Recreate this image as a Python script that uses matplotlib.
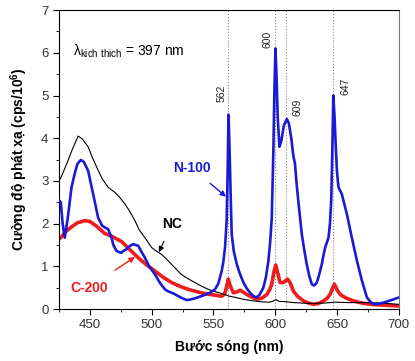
import matplotlib.pyplot as plt
from matplotlib.ticker import MultipleLocator

plt.rcParams['font.family'] = ['Liberation Sans', 'DejaVu Sans']

# NC sample (thin black)
nc_wl = [425, 427, 432, 436, 440.5, 444, 448.6, 452, 456.7, 460, 464.8, 470.3, 474, 478.4, 482,
         486.5, 490, 494.6, 500, 504, 508, 512, 516, 520, 524, 530, 535, 540, 546, 551, 557, 563,
         568, 574, 580, 588, 595, 598, 600.5, 603, 609, 615, 628, 640, 648.5, 660, 675, 690, 700]
nc_int = [3.0, 3.1, 3.45, 3.75, 4.05, 3.98, 3.8, 3.55, 3.25, 3.05, 2.85, 2.73, 2.62, 2.46, 2.3,
          2.07, 1.85, 1.67, 1.44, 1.35, 1.28, 1.17, 1.05, 0.93, 0.81, 0.7, 0.62, 0.54, 0.46, 0.41,
          0.36, 0.3, 0.27, 0.23, 0.2, 0.17, 0.16, 0.18, 0.22, 0.18, 0.17, 0.15, 0.13, 0.14, 0.16,
          0.15, 0.15, 0.13, 0.11]

# N-100 sample (blue)
n100_wl = [425, 426.5, 428, 429.7, 432, 435.2, 438, 440, 442.7, 445, 448.6, 452.7, 456.7, 460,
           462.2, 464.8, 467.6, 469, 471.6, 474, 475.7, 477, 479.7, 482, 485.1, 487, 489.2, 491,
           494.6, 498, 502.7, 507, 510.8, 513, 516.2, 518, 521.6, 525, 528.4, 531, 535, 539, 543,
           547, 551.3, 554, 556.7, 558, 559.4, 560.7, 561.5, 562.2, 563, 564, 564.8, 566.5, 568.9,
           571.5, 574.3, 577, 579.7, 582, 584.5, 587, 590.4, 592.5, 594.5, 596, 597.2, 598.5,
           599.4, 600.2, 601, 602, 603.4, 605, 607, 609.4, 611, 613, 614.6, 616, 617.4, 619.5,
           621.5, 623.5, 625.5, 627.5, 629.6, 631.5, 633.7, 635.5, 637.7, 639, 640.4, 643.1,
           644.3, 645.3, 646.2, 647, 648, 649, 650, 651.2, 653.9, 658, 662, 666.1, 670.2, 674.2,
           677, 679.6, 683, 687.7, 693, 700]
n100_int = [2.55, 2.5, 2.0, 1.67, 2.1, 2.85, 3.2, 3.4, 3.49, 3.45, 3.24, 2.69, 2.14, 1.95,
            1.91, 1.87, 1.67, 1.5, 1.36, 1.33, 1.32, 1.36, 1.4, 1.47, 1.52, 1.5, 1.48, 1.38,
            1.2, 1.0, 0.81, 0.6, 0.46, 0.42, 0.38, 0.36, 0.3, 0.25, 0.21, 0.22, 0.25, 0.29, 0.33,
            0.38, 0.46, 0.6, 0.89, 1.1, 1.44, 2.07, 3.2, 4.55, 3.8, 2.6, 1.75, 1.35, 1.05,
            0.82, 0.62, 0.48, 0.38, 0.31, 0.27, 0.32, 0.5, 0.75, 1.13, 1.6, 2.14, 3.7,
            5.2, 6.1, 5.5, 4.5, 3.8, 3.95, 4.3, 4.45, 4.35, 4.0, 3.6, 3.4, 2.9, 2.3,
            1.75, 1.38, 1.05, 0.78, 0.58, 0.55, 0.62, 0.8, 1.05, 1.25, 1.44, 1.67,
            2.0, 2.54, 3.7, 5.0, 4.5, 3.8, 3.2, 2.85, 2.69, 2.22, 1.67, 1.13, 0.66, 0.27,
            0.17, 0.11, 0.12, 0.15, 0.2, 0.27]

# C-200 sample (thick red)
c200_wl = [425, 426.5, 430, 435, 440, 446, 450, 455, 462, 468, 475.7, 482, 489.2, 496, 502.7,
           509, 516.2, 523, 529.7, 536, 543.2, 550, 556.7, 559, 560.5, 562, 563.5, 566.1, 569,
           571.6, 574, 577, 581, 585.1, 589, 593.2, 595.5, 597.2, 598.8, 600.4, 602, 603.9,
           606.6, 609.9, 612, 614.7, 618, 622.8, 627, 631, 635, 639, 642, 644.5, 646.5, 648,
           650, 652.6, 657, 663.4, 670, 677, 688, 700]
c200_int = [1.65, 1.67, 1.8, 1.92, 2.02, 2.07, 2.05, 1.95, 1.77, 1.7, 1.58, 1.4, 1.2, 1.03, 0.89,
            0.75, 0.62, 0.53, 0.46, 0.41, 0.36, 0.33, 0.3, 0.35, 0.5, 0.7, 0.55, 0.38, 0.4,
            0.44, 0.4, 0.34, 0.28, 0.23, 0.25, 0.34, 0.45, 0.58, 0.85, 1.03, 0.85, 0.62,
            0.62, 0.7, 0.62, 0.42, 0.3, 0.19, 0.14, 0.11, 0.13, 0.19, 0.25, 0.35, 0.5, 0.58,
            0.45, 0.34, 0.26, 0.19, 0.14, 0.11, 0.09, 0.07]

peaks = [562, 600, 609, 647]

fig = plt.figure(figsize=(4.15, 3.61), dpi=100)
ax = fig.add_axes([0.142, 0.144, 0.819, 0.828])

for p in peaks:
    ax.axvline(p, color='#888888', ls=':', lw=0.8, zorder=1)

ax.plot(nc_wl, nc_int, color='black', lw=0.8, zorder=3)
ax.plot(c200_wl, c200_int, color='#ee1c1c', lw=2.6, zorder=2)
ax.plot(n100_wl, n100_int, color='#1a1ad4', lw=1.9, zorder=4)

ax.set_xlim(425, 700)
ax.set_ylim(0, 7)
ax.xaxis.set_major_locator(MultipleLocator(50))
ax.xaxis.set_minor_locator(MultipleLocator(25))
ax.yaxis.set_major_locator(MultipleLocator(1))
ax.yaxis.set_minor_locator(MultipleLocator(0.5))
ax.tick_params(which='both', direction='out', labelsize=9.5, labelcolor='#333333')
ax.tick_params(which='major', length=4)
ax.tick_params(which='minor', length=2)
ax.spines['right'].set_color('#777777')

ax.set_xlabel('Bước sóng (nm)', fontsize=10, fontweight='bold', labelpad=6)
ax.set_ylabel(r'Cường độ phát xạ (cps/10$\mathregular{^6}$)', fontsize=10, fontweight='bold',
              labelpad=8)

ax.text(436.2, 6.04, r'λ$\mathregular{_{kich\ thich}}$ = 397 nm', fontsize=10, va='center')

# peak labels
ax.text(556.2, 5.06, '562', rotation=90, fontsize=7.5, ha='center', va='center', color='#222222')
ax.text(593.4, 6.32, '600', rotation=90, fontsize=7.5, ha='center', va='center', color='#222222')
ax.text(618.2, 4.72, '609', rotation=90, fontsize=7.5, ha='center', va='center', color='#222222')
ax.text(656.6, 5.22, '647', rotation=90, fontsize=7.5, ha='center', va='center', color='#222222')

# sample labels
ax.annotate('N-100', xy=(560.2, 2.63), xytext=(532.7, 3.3), color='#1a1ad4', fontsize=10,
            fontweight='bold', ha='center', va='center',
            arrowprops=dict(arrowstyle='-|>', color='#1a1ad4', lw=1.0, shrinkA=6, shrinkB=0,
                            mutation_scale=8))
ax.annotate('NC', xy=(505.9, 1.33), xytext=(516.5, 1.99), color='black', fontsize=10,
            fontweight='bold', ha='center', va='center',
            arrowprops=dict(arrowstyle='-|>', color='black', lw=0.8, shrinkA=6, shrinkB=0,
                            mutation_scale=8))
ax.annotate('C-200', xy=(486.5, 1.22), xytext=(449.2, 0.50), color='#ee1c1c', fontsize=10,
            fontweight='bold', ha='center', va='center',
            arrowprops=dict(arrowstyle='-|>', color='#ee1c1c', lw=1.0, shrinkA=10, shrinkB=0,
                            mutation_scale=8))

fig.savefig('out.png', dpi=100)
